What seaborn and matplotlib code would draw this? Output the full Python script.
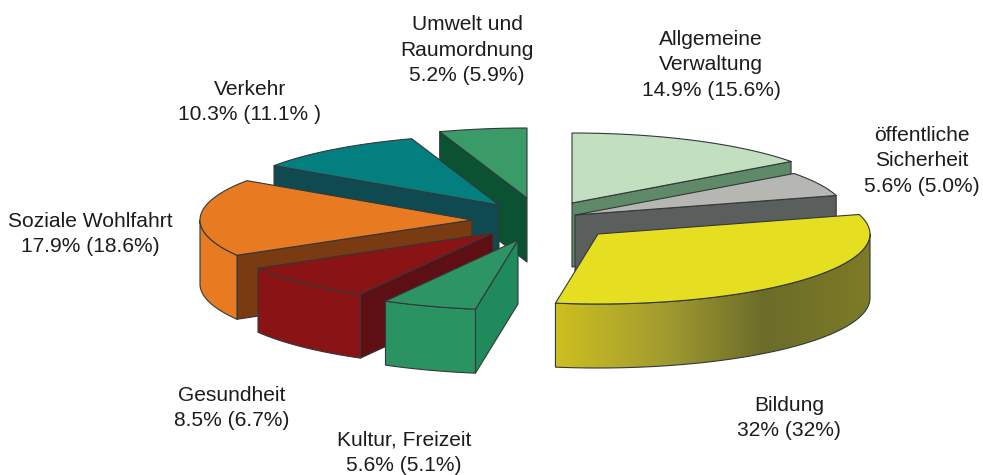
import numpy as np
import matplotlib
matplotlib.use("Agg")
import matplotlib.pyplot as plt
from matplotlib.patches import Polygon
import seaborn as sns

# Anteile in Prozent, im Uhrzeigersinn ab 12 Uhr
categories = ["Allgemeine Verwaltung", "öffentliche Sicherheit", "Bildung", "Kultur, Freizeit",
              "Gesundheit", "Soziale Wohlfahrt", "Verkehr", "Umwelt und Raumordnung"]
shares = [14.9, 5.6, 32, 5.6, 8.5, 17.9, 10.3, 5.2]
labels = ["Allgemeine\nVerwaltung\n14.9% (15.6%)", "öffentliche\nSicherheit\n5.6% (5.0%)",
          "Bildung\n32% (32%)", "Kultur, Freizeit\n5.6% (5.1%)", "Gesundheit\n8.5% (6.7%)",
          "Soziale Wohlfahrt\n17.9% (18.6%)", "Verkehr\n10.3% (11.1% )",
          "Umwelt und\nRaumordnung\n5.2% (5.9%)"]

# style
top_colors = ["#c2e0c0", "#b6b6b2", "#e6de20", "#2d9565", "#8a1315", "#e87b22", "#047f80", "#3a9a68"]
wall_colors = ["#5f8a68", "#5a5e5c", "#6c6c2a", "#1f8a5c", "#5e0f14", "#7a3a12", "#0f4a50", "#0a5232"]
outer_colors = ["#c2e0c0", "#8a8a88", None, "#2a9362", "#8a1315", "#e87b22", "#0f4a50", "#3a9a68"]
bildung_ramp = ["#cdbf20", "#a39d30", "#6c6c2a", "#7c7b26"]

# layout in pixels
apex_x = [572, 575, 598, 518, 493, 472, 499, 527]
apex_y = [203, 215, 234, 240, 233, 220, 205, 198]
label_x = [711, 922, 789, 404, 232, 90, 250, 467]
label_y = [65, 161, 418, 453, 408, 234, 102, 50]
draw_order = [7, 6, 5, 4, 3, 0, 1, 2]
rx, ry, depth = 272, 70, 64
edge = "#33383a"

sns.set_theme(style="white")
plt.rcParams["font.family"] = ["Liberation Sans", "DejaVu Sans"]

fig, ax = plt.subplots(figsize=(9.83, 4.75), dpi=100)
fig.subplots_adjust(0, 0, 1, 1)
ax.axis("off")

ends = 90 - np.cumsum(shares) * 3.6
starts = np.r_[90, ends[:-1]]


def arc(cx, cy, a0, a1, n=60):
    t = np.radians(np.linspace(a0, a1, n))
    return np.c_[cx + rx * np.cos(t), cy - ry * np.sin(t)]


def face(points, color):
    patch = Polygon(points, closed=True, facecolor=color, edgecolor=edge, linewidth=0.8, joinstyle="round")
    ax.add_patch(patch)
    return patch


for i in draw_order:
    cx, cy, a0, a1 = apex_x[i], apex_y[i], starts[i], ends[i]
    apex = np.array([cx, cy])

    # radial walls that look to the viewer
    for a, visible in ((a0, np.cos(np.radians(a0)) < 0), (a1, np.cos(np.radians(a1)) > 0)):
        if visible:
            p = arc(cx, cy, a, a, 1)[0]
            face([apex, p, p + [0, depth], apex + [0, depth]], wall_colors[i])

    # curved wall, front half only
    high, low = min(a0, 0), max(a1, -180)
    if high > low:
        top = arc(cx, cy, high, low)
        band = np.r_[top, (top + [0, depth])[::-1]]
        if i == 2:
            # Verlauf von links nach rechts, mit dem Band beschnitten
            x0, y0 = band.min(axis=0)
            x1, y1 = band.max(axis=0)
            ramp = np.array(sns.blend_palette(bildung_ramp, 200))[None, :, :]
            img = ax.imshow(ramp, extent=[x0, x1, y1, y0], aspect="auto", zorder=1)
            img.set_clip_path(Polygon(band, closed=True, transform=ax.transData))
            face(band, "none")
        else:
            face(band, outer_colors[i])

    face(np.r_[[apex], arc(cx, cy, a0, a1)], top_colors[i])

for x, y, text in zip(label_x, label_y, labels):
    ax.text(x, y, text, ha="center", va="center", fontsize=15.1, color="#1c1c1c", linespacing=1.45)

ax.set_xlim(0, 983)
ax.set_ylim(475, 0)
fig.savefig("out.png", dpi=100)
